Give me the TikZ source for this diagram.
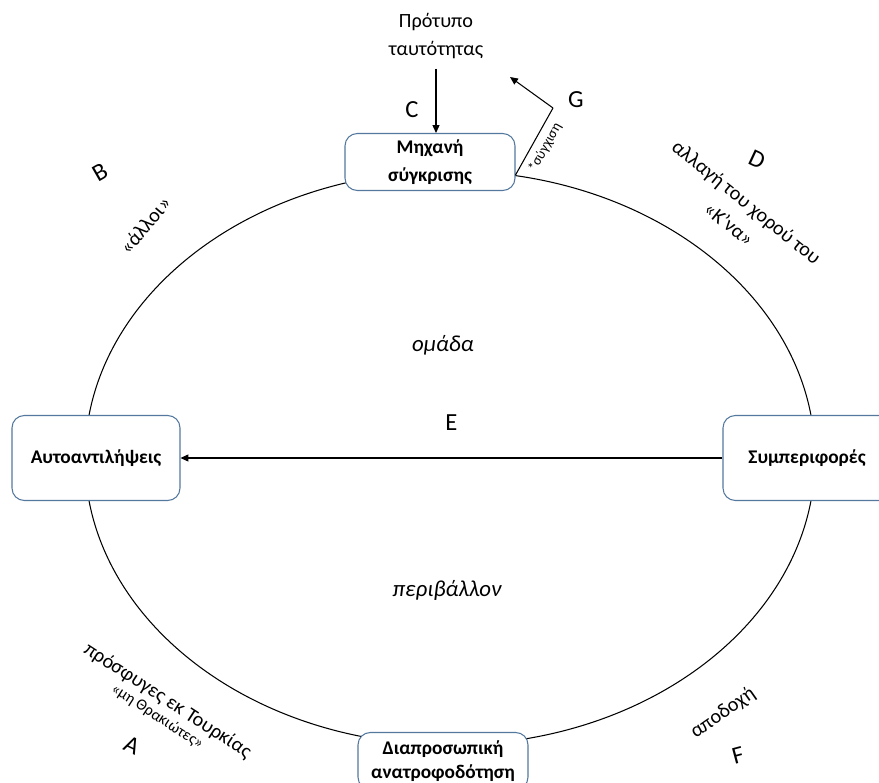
\documentclass[tikz,border=0pt]{standalone}
\usepackage{fontspec}
\setmainfont{Carlito}
\usetikzlibrary{shapes,arrows.meta,calc}
\definecolor{boxblue}{RGB}{84,120,158}

\begin{document}
\begin{tikzpicture}[%
    x=0.02cm, y=-0.02cm,            % pixel-like grid, y going down
    >={Triangle[length=4.5pt,width=4pt]},
    font=\fontsize{11.5}{16}\selectfont,
    ]
% -------------------------------------------------
% Styles
\tikzset{
  box/.style={draw=boxblue, line width=0.6pt, rounded corners=7pt, fill=white,
    align=center, font=\fontsize{11}{16}\selectfont\bfseries},
  wide/.style={box, minimum width=3.4cm, minimum height=1.14cm},
  side/.style={box, minimum width=3.36cm, minimum height=1.7cm},
  it/.style={font=\fontsize{13}{16}\selectfont\itshape},
  tiny/.style={font=\fontsize{8}{10}\selectfont},
  mark letter/.style={font=\fontsize{14}{16}\selectfont},
  norm/.style={->, draw, line width=0.6pt},
}
\useasboundingbox (0,0) rectangle (879,783);
% -------------------------------------------------
% The ring first, boxes on top of it
\draw [line width=0.6pt] (450,458) ellipse [x radius=365, y radius=287];

\node [wide] (cmp)   at (430,162) {Μηχανή\\σύγκρισης};
\node [side] (self)  at (96,458)  {Αυτοαντιλήψεις};
\node [side] (behav) at (807,458) {Συμπεριφορές};
\node [wide, font=\fontsize{11}{13.5}\selectfont\bfseries]
  (feed) at (443,761) {Διαπροσωπική\\ανατροφοδότηση};

% Inner texts
\node [it] (grp) at (443,345) {ομάδα};
\node [it] (env) at (447,590) {περιβάλλον};
\draw [norm] (behav) -- node [above=12pt, mark letter] {E} (self);

% Top: identity model and confusion
\node [align=center] (ident) at (436,36) {Πρότυπο\\ταυτότητας};
\draw [norm, shorten <=2pt] (ident) -- (ident |- cmp.north);
\node [mark letter] at (412,110) {C};

\coordinate (gfoot) at ($(cmp.east)+(0,13)$);
\coordinate (gknee) at (553,108);
\coordinate (gend)  at (510,77);
\draw [line width=0.6pt] (gfoot) -- node [sloped, below, tiny] {*σύγχιση} (gknee);
\draw [norm] (gknee) -- (gend);
\node [mark letter] at (576,100) {G};

% Corner remarks
\node [mark letter, rotate=30] at (100,172) {B};
\node [rotate=50] at (145,225) {«άλλοι»};
\node [mark letter, rotate=-25] at (757,160) {D};
\node [rotate=-39, align=center] at (738,213) {αλλαγή του χορού του\\«Κ’να»};
\node [rotate=-33, align=center] at (163,708)
  {πρόσφυγες εκ Τουρκίας\\[-6pt]{\fontsize{9}{10}\selectfont «μη Θρακιώτες»}};
\node [mark letter, rotate=-25] at (132,745) {A};
\node [rotate=35] at (723,713) {αποδοχή};
\node [mark letter, rotate=15] at (738,755) {F};
% -------------------------------------------------
\end{tikzpicture}
\end{document}
